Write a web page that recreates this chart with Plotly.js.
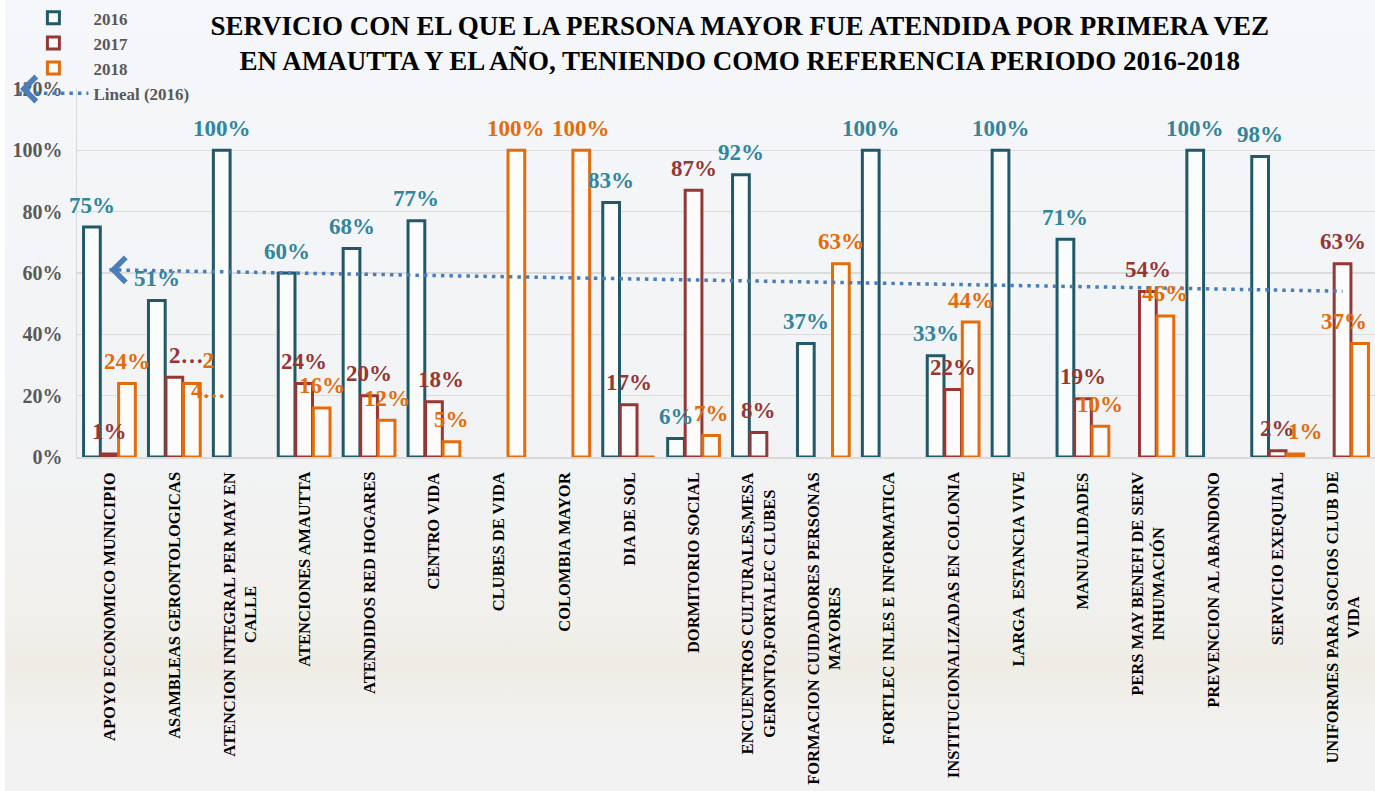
<!DOCTYPE html>
<html><head><meta charset="utf-8">
<script src="https://cdn.plot.ly/plotly-3.0.1.min.js"></script>
<style>
html,body{margin:0;padding:0;background:#ffffff;}
#bg{position:absolute;left:5px;top:0;width:1370px;height:791px;
background:linear-gradient(180deg,#f5f7fa 0%,#f2f3f5 55%,#f1f0ec 78%,#eeece4 84%,#f1f0ec 89%,#f2f2f2 95%,#f2f2f2 100%);}
#chart{position:absolute;left:0;top:0;width:1375px;height:791px;}
</style></head>
<body><div id="bg"></div><div id="chart"></div>
<script>
const categories = [
  'APOYO ECONOMICO MUNICIPIO',
  'ASAMBLEAS GERONTOLOGICAS',
  'ATENCION INTEGRAL PER MAY EN<br>CALLE',
  'ATENCIONES AMAUTTA',
  'ATENDIDOS RED HOGARES',
  'CENTRO VIDA',
  'CLUBES DE VIDA',
  'COLOMBIA MAYOR',
  'DIA DE SOL',
  'DORMITORIO SOCIAL',
  'ENCUENTROS CULTURALES,MESA<br>GERONTO,FORTALEC CLUBES',
  'FORMACION CUIDADORES PERSONAS<br>MAYORES',
  'FORTLEC INLES E INFORMATICA',
  'INSTITUCIONALIZADAS EN COLONIA',
  'LARGA  ESTANCIA VIVE',
  'MANUALIDADES',
  'PERS MAY BENEFI DE SERV<br>INHUMACIÓN',
  'PREVENCION AL ABANDONO',
  'SERVICIO EXEQUIAL',
  'UNIFORMES PARA SOCIOS CLUB DE<br>VIDA'
];
const seriesNames = ['2016', '2017', '2018'];
const values2016 = [75, 51, 100, 60, 68, 77, null, null, 83, 6, 92, 37, 100, 33, 100, 71, null, 100, 98, null];
const values2017 = [1, 26, null, 24, 20, 18, null, null, 17, 87, 8, null, null, 22, null, 19, 54, null, 2, 63];
const values2018 = [24, 24, null, 16, 12, 5, 100, 100, 0, 7, null, 63, null, 44, null, 10, 46, null, 1, 37];
const trendName = 'Lineal (2016)';
const titleText = 'SERVICIO CON EL QUE LA PERSONA MAYOR FUE ATENDIDA POR PRIMERA VEZ<br>EN AMAUTTA Y EL AÑO, TENIENDO COMO REFERENCIA PERIODO 2016-2018';
// labels that Excel truncated / moved in the original
const labelOverrides = {
  '1-1': {text: '2…', dx: 12},
  '1-2': {text: '2<br>4…', dx: 17, dy: -14},
  '5-1': {dx: 7},
  '18-2': {dx: 10},
  '19-2': {dx: -16}
};

const allSeries = [values2016, values2017, values2018];
const lineColors = ['#215968', '#953735', '#E46C0A'];
const fillColors = ['#fbfdfd', '#fdfbfb', '#fefcfa'];
const labelColors = ['#31859C', '#953735', '#E46C0A'];
const serif = 'Liberation Serif, Times New Roman, serif';

// linear trend of 2016 (blanks counted as zero, as in the original)
const n = values2016.length;
const ys = values2016.map(v => v == null ? 0 : v);
const xs = ys.map((_, i) => i + 1);
const mx = xs.reduce((a, b) => a + b, 0) / n;
const my = ys.reduce((a, b) => a + b, 0) / n;
let sxy = 0, sxx = 0;
for (let i = 0; i < n; i++) { sxy += (xs[i] - mx) * (ys[i] - my); sxx += (xs[i] - mx) ** 2; }
const slope = sxy / sxx;
const trend = xs.map(x => my + slope * (x - mx));

const traces = allSeries.map((vals, j) => ({
  type: 'bar', name: seriesNames[j], x: categories, y: vals,
  marker: {color: fillColors[j], line: {color: lineColors[j], width: 3}},
  hoverinfo: 'skip'
}));
traces.push({
  type: 'scatter', mode: 'lines', name: trendName, x: categories, y: trend,
  line: {color: '#4a7ebb', width: 3.5, dash: '3.5px,5px'}, hoverinfo: 'skip'
});

const annotations = [];
const slot = 17.5;
allSeries.forEach((vals, j) => {
  vals.forEach((v, i) => {
    if (v == null || v === 0) return;
    const o = labelOverrides[i + '-' + j] || {};
    annotations.push({
      x: categories[i], y: v, xref: 'x', yref: 'y',
      text: o.text || (v + '%'), showarrow: false,
      xshift: (j - 1) * slot + (o.dx || 0), yshift: 22 + (o.dy || 0),
      xanchor: 'center', yanchor: 'middle',
      font: {family: serif, size: 23, color: labelColors[j], weight: 'bold'}
    });
  });
});
categories.forEach(c => {
  annotations.push({
    x: c, y: 0, xref: 'x', yref: 'paper', text: c, showarrow: false,
    textangle: -90, xanchor: 'center', yanchor: 'top', yshift: -13, align: 'center',
    font: {family: serif, size: 16.5, color: '#000000', weight: 'bold'}
  });
});
// arrow heads of the trend line (in the plot and next to the legend)
const arrowStyle = {text: '&nbsp;', font: {size: 3, color: 'rgba(0,0,0,0)'}, showarrow: true,
  ax: 12, ay: 0, arrowhead: 4, arrowsize: 1.6, arrowwidth: 3, arrowcolor: '#4a7ebb', standoff: 0};
annotations.push(Object.assign({x: categories[0], y: trend[0], xref: 'x', yref: 'y'}, arrowStyle));
annotations.push(Object.assign({x: (20 - 77) / 1298, y: 1, xref: 'paper', yref: 'paper'}, arrowStyle));

const layout = {
  width: 1375, height: 791,
  margin: {l: 77, r: 0, t: 89, b: 334, autoexpand: false},
  paper_bgcolor: 'rgba(0,0,0,0)', plot_bgcolor: 'rgba(0,0,0,0)',
  barmode: 'group', bargap: 0.19, bargroupgap: 0.045,
  title: {
    text: titleText, xref: 'container', x: 0.538, xanchor: 'center',
    yref: 'container', y: 0.956, yanchor: 'top',
    font: {family: serif, size: 27, color: '#000000', weight: 'bold'}
  },
  xaxis: {type: 'category', showticklabels: false, showgrid: false, showline: true,
    linecolor: '#d9d9d9', linewidth: 2, ticks: '', range: [-0.5, 19.5], fixedrange: true},
  yaxis: {range: [0, 120], dtick: 20, ticksuffix: '%', showgrid: true, gridcolor: '#dcdcdc', gridwidth: 1.5,
    showline: true, linecolor: '#d9d9d9', linewidth: 1.5, zeroline: false, ticks: '',
    ticklabelstandoff: 9, fixedrange: true,
    tickfont: {family: serif, size: 20, color: '#595959', weight: 'bold'}},
  legend: {x: -0.049, xanchor: 'left', y: 1.241, yanchor: 'top', bgcolor: 'rgba(0,0,0,0)',
    itemwidth: 70, tracegroupgap: 0, traceorder: 'normal',
    font: {family: serif, size: 17, color: '#595959', weight: 'bold'}},
  showlegend: true,
  annotations: annotations
};
Plotly.newPlot('chart', traces, layout, {displayModeBar: false, staticPlot: true});
</script>
</body></html>
